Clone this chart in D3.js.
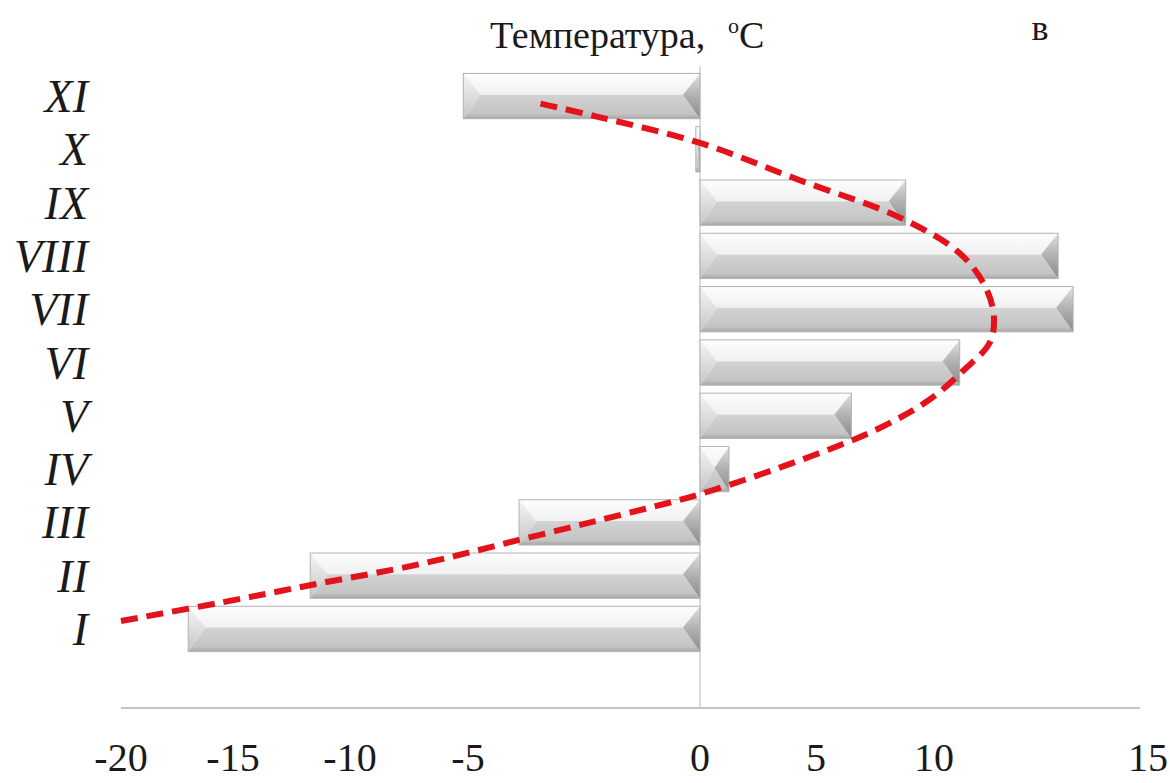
<!DOCTYPE html>
<html>
<head>
<meta charset="utf-8">
<script src="https://cdn.jsdelivr.net/npm/d3@7"></script>
<style>
  html, body { margin: 0; padding: 0; background: #fff; }
  svg { display: block; }
  text { font-family: "Liberation Serif", "Times New Roman", serif; fill: #1a1a1a; }
</style>
</head>
<body>
<svg id="chart" width="1170" height="783"></svg>
<script>
// months, bottom (I) to top (XI)
const months = ['I', 'II', 'III', 'IV', 'V', 'VI', 'VII', 'VIII', 'IX', 'X', 'XI'];
// mean monthly temperature, °C
const temps = [-17.0, -11.7, -3.9, 1.25, 6.5, 10.6, 13.25, 12.9, 8.8, -0.09, -5.2];

// red dashed trend curve: temperature and position in months
const trendTemp  = [-20, -15.6, -11.6, -7.0, -3.9, -1.9, 0, 4.9, 7.7, 9.8, 10.7, 11.3, 11.4, 11.2, 10.6, 8.6, 4.3, 0, -2.2, -3.6];
const trendMonth = [1.15, 1.49, 1.83, 2.22, 2.67, 3.10, 3.53, 4.26, 4.77, 5.30, 5.86, 6.37, 6.85, 7.42, 8.05, 8.71, 9.42, 10.12, 10.61, 10.89];

const xTicks = [-20, -15, -10, -5, 0, 5, 10, 15];
// the printed axis is not evenly spaced: where each tick sits across the plot
const xTickPos = [121, 233, 350, 468, 700, 816, 934, 1148];

const svg = d3.select('#chart');
const W = 1170, H = 783;
svg.append('rect').attr('width', W).attr('height', H).attr('fill', '#fff');

const x = d3.scaleLinear().domain(xTicks).range(xTickPos);
const y = d3.scaleBand()
  .domain(months.slice().reverse())
  .range([69.4, 655.6])
  .paddingInner(0.15).paddingOuter(0.075);
const bw = y.bandwidth();
// continuous month position for the curve
const yM = d3.scaleLinear().domain([1, 11])
  .range([y('I') + bw / 2, y('XI') + bw / 2]);

const defs = svg.append('defs');
function grad(id, stops) {
  const g = defs.append('linearGradient').attr('id', id)
    .attr('x1', 0).attr('y1', 0).attr('x2', 0).attr('y2', 1);
  stops.forEach(([o, c]) => g.append('stop').attr('offset', o).attr('stop-color', c));
}
grad('gTop',   [[0, '#fdfdfd'], [1, '#f1f1f1']]);
grad('gBot',   [[0, '#d3d3d3'], [0.8, '#c4c4c4'], [1, '#a5a5a5']]);
grad('gLeft',  [[0, '#f4f4f4'], [0.5, '#dedede'], [1, '#c4c4c4']]);
grad('gRight', [[0, '#e0e0e0'], [0.5, '#b0b0b0'], [1, '#8a8a8a']]);

// zero line
svg.append('line')
  .attr('x1', x(0)).attr('x2', x(0))
  .attr('y1', 66).attr('y2', 708)
  .attr('stroke', '#c4c4c4').attr('stroke-width', 1.2);

// bevelled bars
const bars = months.map((m, i) => {
  const x0 = x(Math.min(0, temps[i])), x1 = x(Math.max(0, temps[i]));
  const y0 = y(m), y1 = y0 + bw;
  return { x0, x1, y0, y1, ym: y0 + bw * 0.47, b: Math.min(17, (x1 - x0) / 2) };
});
const line = d3.line();
const gBars = svg.append('g');
bars.forEach(d => {
  const g = gBars.append('g');
  g.append('path').attr('fill', 'url(#gTop)')
    .attr('d', line([[d.x0, d.y0], [d.x1, d.y0], [d.x1 - d.b, d.ym], [d.x0 + d.b, d.ym]]) + 'Z');
  g.append('path').attr('fill', 'url(#gBot)')
    .attr('d', line([[d.x0 + d.b, d.ym], [d.x1 - d.b, d.ym], [d.x1, d.y1], [d.x0, d.y1]]) + 'Z');
  g.append('path').attr('fill', 'url(#gLeft)')
    .attr('d', line([[d.x0, d.y0], [d.x0 + d.b, d.ym], [d.x0, d.y1]]) + 'Z');
  g.append('path').attr('fill', 'url(#gRight)')
    .attr('d', line([[d.x1, d.y0], [d.x1 - d.b, d.ym], [d.x1, d.y1]]) + 'Z');
  g.append('rect')
    .attr('x', d.x0).attr('y', d.y0)
    .attr('width', d.x1 - d.x0).attr('height', bw)
    .attr('fill', 'none').attr('stroke', '#b3b3b3').attr('stroke-width', 1);
});

// x axis
svg.append('line')
  .attr('x1', x(-20)).attr('x2', 1140)
  .attr('y1', 708).attr('y2', 708)
  .attr('stroke', '#c4c4c4').attr('stroke-width', 2);
svg.append('g').selectAll('text')
  .data(xTicks).join('text')
  .attr('x', d => x(d)).attr('y', 771)
  .attr('text-anchor', 'middle')
  .attr('font-size', 40)
  .text(d => String(d));

// month labels
svg.append('g').selectAll('text')
  .data(months).join('text')
  .attr('x', 88).attr('y', d => y(d) + bw / 2)
  .attr('dy', '0.35em')
  .attr('text-anchor', 'end')
  .attr('font-size', 46).attr('font-style', 'italic')
  .text(d => d);

// trend curve
const trend = trendTemp.map((t, i) => [x(t), yM(trendMonth[i])]);
svg.append('path')
  .attr('d', d3.line().curve(d3.curveCatmullRom.alpha(0.5))(trend))
  .attr('fill', 'none')
  .attr('stroke', '#e3121b').attr('stroke-width', 6)
  .attr('stroke-dasharray', '17,9');

// title
const title = svg.append('text')
  .attr('x', 490).attr('y', 48)
  .attr('font-size', 38);
title.append('tspan').text('Температура,');
title.append('tspan').attr('x', 728).attr('font-size', 22).attr('dy', -15).text('o');
title.append('tspan').attr('dy', 15).text('C');

svg.append('text')
  .attr('x', 1040).attr('y', 40)
  .attr('font-size', 36).attr('text-anchor', 'middle')
  .text('в');
</script>
</body>
</html>
